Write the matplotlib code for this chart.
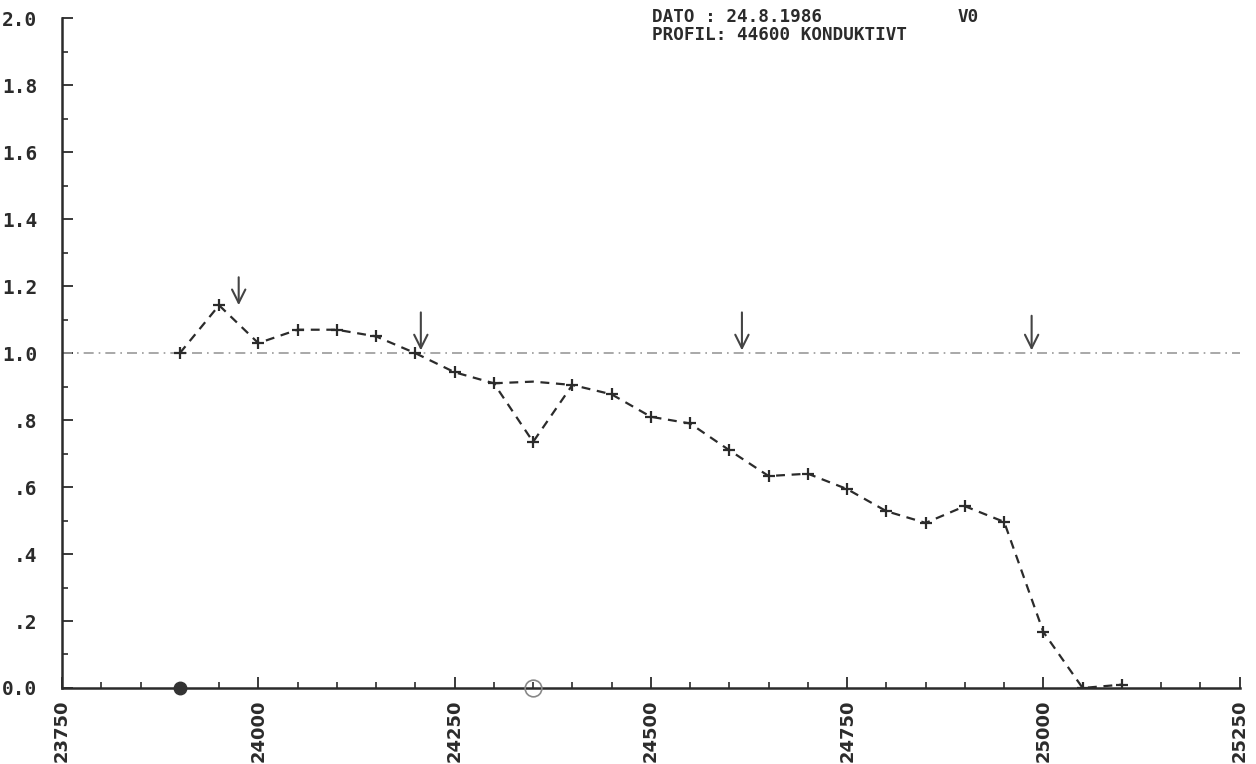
import numpy as np
import matplotlib
matplotlib.use("Agg")
import matplotlib.pyplot as plt
from matplotlib.ticker import MultipleLocator

# profile stations and relative conductivity
stations = [23900, 23950, 24000, 24050, 24100, 24150, 24200, 24250, 24300, 24350,
            24400, 24450, 24500, 24550, 24600, 24650, 24700, 24750, 24800, 24850,
            24900, 24950, 25000, 25050, 25100]
values = [1.0, 1.143, 1.03, 1.07, 1.07, 1.05, 1.0, 0.943, 0.91, 0.735,
          0.905, 0.877, 0.81, 0.79, 0.71, 0.633, 0.64, 0.594, 0.528, 0.493,
          0.543, 0.496, 0.167, 0.0, 0.01]

# repeated reading around 24350
rep_x = [24300, 24350, 24400]
rep_y = [0.91, 0.915, 0.905]

# arrows (x, tip y, tail y)
arrow_x = [23975, 24207, 24616, 24985]
arrow_tip = [1.135, 1.0, 1.0, 1.0]
arrow_tail = [1.235, 1.13, 1.13, 1.12]

yticks = [0.0, 0.2, 0.4, 0.6, 0.8, 1.0, 1.2, 1.4, 1.6, 1.8, 2.0]
ylabels = ["0.0", ".2", ".4", ".6", ".8", "1.0", "1.2", "1.4", "1.6", "1.8", "2.0"]
xticks = [23750, 24000, 24250, 24500, 24750, 25000, 25250]

ink = "#2b2b2b"

fig = plt.figure(figsize=(12.56, 7.64), dpi=100)
ax = fig.add_axes([0.0494, 0.0995, 0.9376, 0.8765])

ax.plot([23750, 25250], [1.0, 1.0], color="#9a9a9a", lw=1.2, ls=(0, (6, 3, 1, 3)))
ax.plot(stations, values, color=ink, lw=1.6, ls=(0, (4, 3)), marker="+",
        ms=9, mew=1.6)
ax.plot(rep_x, rep_y, color=ink, lw=1.6, ls=(0, (4, 3)))

for x, t, s in zip(arrow_x, arrow_tip, arrow_tail):
    ax.annotate("", xy=(x, t), xytext=(x, s),
                arrowprops=dict(arrowstyle="->", color="#444444", lw=1.5,
                                mutation_scale=24))

ax.plot([23900], [0.0], "o", color="#333333", ms=9, clip_on=False, zorder=5)
ax.plot([24350], [0.0], "o", mfc="none", mec="#888888", ms=12, mew=1.2,
        ls="none", clip_on=False, zorder=5)

ax.set_xlim(23750, 25250)
ax.set_ylim(0, 2.0)
ax.set_yticks(yticks)
ax.set_yticklabels(ylabels)
ax.set_xticks(xticks)
ax.set_xticklabels([str(v) for v in xticks], rotation=90)
ax.xaxis.set_minor_locator(MultipleLocator(50))
ax.yaxis.set_minor_locator(MultipleLocator(0.1))
ax.tick_params(which="major", direction="in", length=8, width=1.3, color=ink,
               labelcolor=ink)
ax.tick_params(axis="y", which="major", pad=18, labelsize=14)
ax.tick_params(axis="x", which="major", pad=8, labelsize=13)
ax.tick_params(which="minor", direction="in", length=4, width=1.2, color=ink)
for lab in ax.get_yticklabels():
    lab.set_fontweight("bold")
    lab.set_family("DejaVu Sans Mono")
for lab in ax.get_xticklabels():
    lab.set_fontweight("bold")
    lab.set_family("DejaVu Sans")

for side in ["top", "right"]:
    ax.spines[side].set_visible(False)
for side in ["left", "bottom"]:
    ax.spines[side].set_linewidth(1.8)
    ax.spines[side].set_color(ink)

fig.text(0.519, 0.99, "DATO : 24.8.1986", fontsize=12.7, fontweight="bold",
         family="DejaVu Sans Mono", color=ink, va="top")
fig.text(0.762, 0.99, "V0", fontsize=12.7, fontweight="bold",
         family="DejaVu Sans Mono", color=ink, va="top")
fig.text(0.519, 0.966, "PROFIL: 44600 KONDUKTIVT", fontsize=12.7, fontweight="bold",
         family="DejaVu Sans Mono", color=ink, va="top")

fig.savefig("out.png", dpi=100)
